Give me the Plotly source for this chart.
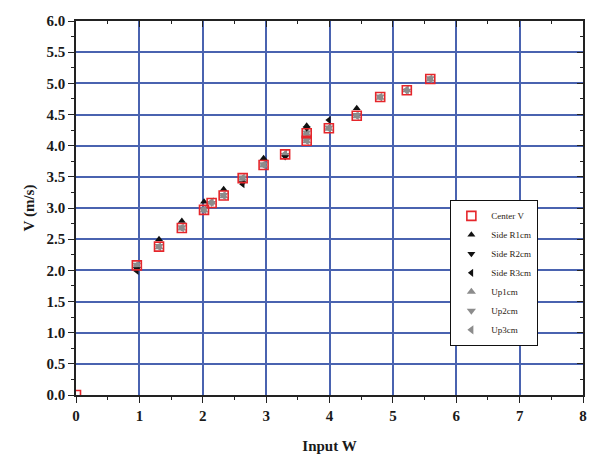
import plotly.graph_objects as go

# Measured wind speed vs. input power
center_x = [0, 0.96, 1.31, 1.67, 2.02, 2.14, 2.33, 2.63, 2.96, 3.30, 3.64, 3.64, 3.99, 4.43, 4.80, 5.22, 5.59]
center_y = [0, 2.08, 2.38, 2.68, 2.97, 3.08, 3.20, 3.48, 3.69, 3.86, 4.08, 4.20, 4.28, 4.48, 4.78, 4.89, 5.07]

side_r1_x = [1.31, 1.67, 2.02, 2.33, 2.96, 3.64, 4.43]
side_r1_y = [2.50, 2.79, 3.10, 3.30, 3.80, 4.32, 4.60]

side_r2_x = [0.96, 2.63, 3.30, 3.64]
side_r2_y = [2.02, 3.40, 3.82, 4.28]

side_r3_x = [0.96, 2.63, 3.99]
side_r3_y = [1.99, 3.38, 4.41]

up1_x = [0.96, 1.31, 1.67, 2.02, 2.14, 2.33, 2.63, 2.96, 3.30, 3.64, 3.64, 3.99, 4.43, 4.80, 5.22, 5.59]
up1_y = [2.07, 2.37, 2.67, 2.96, 3.09, 3.19, 3.47, 3.68, 3.86, 4.07, 4.19, 4.27, 4.47, 4.77, 4.89, 5.06]
up2_x = up1_x
up2_y = [2.09, 2.39, 2.69, 2.98, 3.08, 3.21, 3.49, 3.70, 3.85, 4.09, 4.21, 4.29, 4.49, 4.79, 4.88, 5.08]
up3_x = up1_x
up3_y = [2.08, 2.38, 2.68, 2.97, 3.10, 3.20, 3.48, 3.69, 3.87, 4.08, 4.20, 4.28, 4.48, 4.78, 4.90, 5.07]

x_ticks = [0, 1, 2, 3, 4, 5, 6, 7, 8]
y_ticks = [0.0, 0.5, 1.0, 1.5, 2.0, 2.5, 3.0, 3.5, 4.0, 4.5, 5.0, 5.5, 6.0]

RED = "#E5262B"
GREY = "#8C8C8C"
BLACK = "#111111"
GRID = "#4A63B0"
SERIF = "Liberation Serif"

fig = go.Figure()

def add(name, xs, ys, symbol, color, size, open_=False):
    marker = dict(symbol=symbol, size=size, color=color)
    if open_:
        marker = dict(symbol=symbol, size=size, color="rgba(0,0,0,0)",
                      line=dict(color=color, width=1.6))
    else:
        marker["line"] = dict(width=0)
    fig.add_trace(go.Scatter(x=xs, y=ys, mode="markers", name=name, marker=marker))

add("Up1cm", up1_x, up1_y, "triangle-up", GREY, 8)
add("Up2cm", up2_x, up2_y, "triangle-down", GREY, 8)
add("Up3cm", up3_x, up3_y, "triangle-left", GREY, 8)
add("Side R1cm", side_r1_x, side_r1_y, "triangle-up", BLACK, 7)
add("Side R2cm", side_r2_x, side_r2_y, "triangle-down", BLACK, 7)
add("Side R3cm", side_r3_x, side_r3_y, "triangle-left", BLACK, 7)
add("Center V", center_x, center_y, "square", RED, 9, open_=True)

# legend order: Center V, Side R1..R3, Up1..Up3
order = {"Center V": 1, "Side R1cm": 2, "Side R2cm": 3, "Side R3cm": 4,
         "Up1cm": 5, "Up2cm": 6, "Up3cm": 7}
for tr in fig.data:
    tr.legendrank = order[tr.name]

tickfont = dict(family=SERIF, size=15, color="#1a1a1a", weight="bold")
titlefont = dict(family=SERIF, size=15, color="#1a1a1a", weight="bold")

fig.update_layout(
    width=591, height=461,
    margin=dict(l=76, r=4, t=21, b=66),
    paper_bgcolor="white", plot_bgcolor="white",
    xaxis=dict(
        range=[0, 8], tickvals=x_ticks, ticktext=[str(v) for v in x_ticks],
        showgrid=True, gridcolor=GRID, gridwidth=1.6,
        showline=True, linecolor="#222", linewidth=1.6,
        ticks="outside", ticklen=6, tickwidth=1.4, tickcolor="#222",
        minor=dict(dtick=0.5, ticks="outside", ticklen=3, tickwidth=1.2,
                   tickcolor="#222", showgrid=False),
        tickfont=tickfont, zeroline=False,
        title=dict(text="Input W", font=titlefont, standoff=18),
    ),
    yaxis=dict(
        range=[0, 6], tickvals=y_ticks, ticktext=[f"{v:.1f}" for v in y_ticks],
        showgrid=True, gridcolor=GRID, gridwidth=1.6,
        showline=True, linecolor="#222", linewidth=1.6,
        ticks="outside", ticklen=6, tickwidth=1.4, tickcolor="#222",
        minor=dict(dtick=0.25, ticks="outside", ticklen=3, tickwidth=1.2,
                   tickcolor="#222", showgrid=False),
        tickfont=tickfont, zeroline=False,
        title=dict(text="V (m/s)", font=titlefont, standoff=8),
    ),
    xaxis2=dict(
        range=[0, 8], overlaying="x", side="top", anchor="y",
        tickvals=x_ticks, showticklabels=False, showgrid=False, zeroline=False,
        showline=True, linecolor="#222", linewidth=1.6,
        ticks="inside", ticklen=6, tickwidth=1.4, tickcolor="#222",
        minor=dict(dtick=0.5, ticks="inside", ticklen=3, tickwidth=1.2,
                   tickcolor="#222", showgrid=False),
    ),
    yaxis2=dict(
        range=[0, 6], overlaying="y", side="right", anchor="x",
        tickvals=y_ticks, showticklabels=False, showgrid=False, zeroline=False,
        showline=True, linecolor="#222", linewidth=1.6,
        ticks="inside", ticklen=6, tickwidth=1.4, tickcolor="#222",
        minor=dict(dtick=0.25, ticks="inside", ticklen=3, tickwidth=1.2,
                   tickcolor="#222", showgrid=False),
    ),
    legend=dict(
        x=0.738, y=0.521, xanchor="left", yanchor="top",
        bgcolor="white", bordercolor="#111", borderwidth=1.2,
        font=dict(family=SERIF, size=9, color="#2a1a10"),
        tracegroupgap=0, itemwidth=30,
    ),
    showlegend=True,
)

# empty trace to carry the mirrored frame axes
fig.add_trace(go.Scatter(x=[None], y=[None], xaxis="x2", yaxis="y2",
                         showlegend=False, hoverinfo="skip"))

fig.write_html("out.html")
